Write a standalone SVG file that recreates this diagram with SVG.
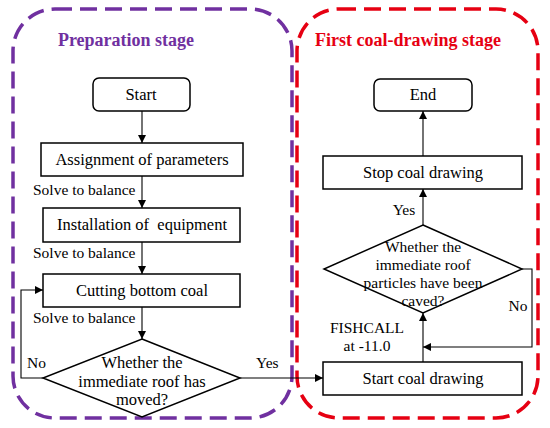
<svg xmlns="http://www.w3.org/2000/svg" width="550" height="428" viewBox="0 0 550 428">
<style>
.box{fill:#fff;stroke:#000;stroke-width:1.5}
.t{font-family:"Liberation Serif","DejaVu Serif",serif;font-size:15.5px;fill:#000}
.b{font-size:16.5px}
.c{text-anchor:middle}
.ttl{font-family:"Liberation Serif","DejaVu Serif",serif;font-size:18px;font-weight:bold}
.ln{fill:none;stroke:#000;stroke-width:1.1}
.stage{fill:none;stroke-width:3.5;stroke-dasharray:17 8}
</style>
<defs>
<marker id="ah" viewBox="0 0 10 10" refX="10" refY="5" markerWidth="8" markerHeight="8" markerUnits="userSpaceOnUse" orient="auto">
<path d="M0,0 L10,5 L0,10 z" fill="#000"/>
</marker>
</defs>
<rect width="550" height="428" fill="#fff"/>
<g id="stage-prep">
<rect class="stage" x="13" y="9" width="279" height="409" rx="42" stroke="#7030A0"/>
<text class="ttl c" x="126" y="46" fill="#7030A0">Preparation stage</text>
</g>
<g id="stage-first">
<rect class="stage" x="297" y="9" width="241" height="409" rx="42" stroke="#E60012"/>
<text class="ttl c" x="408" y="46" fill="#E60012">First coal-drawing stage</text>
</g>
<g id="connectors">
<line class="ln" x1="142" y1="111" x2="142" y2="143" marker-end="url(#ah)"/>
<line class="ln" x1="142" y1="176" x2="142" y2="208" marker-end="url(#ah)"/>
<line class="ln" x1="142" y1="242" x2="142" y2="274" marker-end="url(#ah)"/>
<line class="ln" x1="142" y1="307" x2="142" y2="339" marker-end="url(#ah)"/>
<polyline class="ln" points="43,378 21,378 21,290 43,290" marker-end="url(#ah)"/>
<line class="ln" x1="240" y1="378" x2="323" y2="378" marker-end="url(#ah)"/>
<line class="ln" x1="423" y1="362" x2="423" y2="313" marker-end="url(#ah)"/>
<polyline class="ln" points="522,269 532,269 532,347 423,347" marker-end="url(#ah)"/>
<line class="ln" x1="423" y1="225" x2="423" y2="189" marker-end="url(#ah)"/>
<line class="ln" x1="423" y1="156" x2="423" y2="111" marker-end="url(#ah)"/>
<text class="t" x="33" y="195">Solve to balance</text>
<text class="t" x="33" y="258">Solve to balance</text>
<text class="t" x="33" y="323">Solve to balance</text>
<text class="t" x="27" y="368">No</text>
<text class="t" x="256" y="368">Yes</text>
<text class="t c" x="404" y="215">Yes</text>
<text class="t c" x="518" y="311">No</text>
<text class="t c" x="367" y="333">FISHCALL</text>
<text class="t c" x="367" y="351">at -11.0</text>
</g>
<g id="start">
<rect class="box" x="93" y="78" width="97" height="33" rx="6"/>
<text class="t b c" x="141" y="100">Start</text>
</g>
<g id="assign">
<rect class="box" x="41" y="143" width="202" height="33"/>
<text class="t b c" x="142" y="165">Assignment of parameters</text>
</g>
<g id="install">
<rect class="box" x="43" y="208" width="197" height="34"/>
<text class="t b c" x="142" y="230" xml:space="preserve">Installation of  equipment</text>
</g>
<g id="cutting">
<rect class="box" x="43" y="274" width="197" height="33"/>
<text class="t b c" x="142" y="296">Cutting bottom coal</text>
</g>
<g id="decision1">
<polygon class="box" points="142,339 240,378 142,417 43,378"/>
<text class="t b c" x="142" y="368">Whether the</text>
<text class="t b c" x="142" y="387">immediate roof has</text>
<text class="t b c" x="142" y="405">moved?</text>
</g>
<g id="startdraw">
<rect class="box" x="323" y="362" width="199" height="33"/>
<text class="t b c" x="423" y="384">Start coal drawing</text>
</g>
<g id="decision2">
<polygon class="box" points="423,225 522,269 423,313 324,269"/>
<text class="t c" x="423" y="252">Whether the</text>
<text class="t c" x="423" y="270">immediate roof</text>
<text class="t c" x="423" y="288">particles have been</text>
<text class="t c" x="423" y="306">caved?</text>
</g>
<g id="stopdraw">
<rect class="box" x="323" y="156" width="199" height="33"/>
<text class="t b c" x="423" y="178">Stop coal drawing</text>
</g>
<g id="end">
<rect class="box" x="374" y="79" width="98" height="32" rx="6"/>
<text class="t b c" x="423" y="100">End</text>
</g>
</svg>
